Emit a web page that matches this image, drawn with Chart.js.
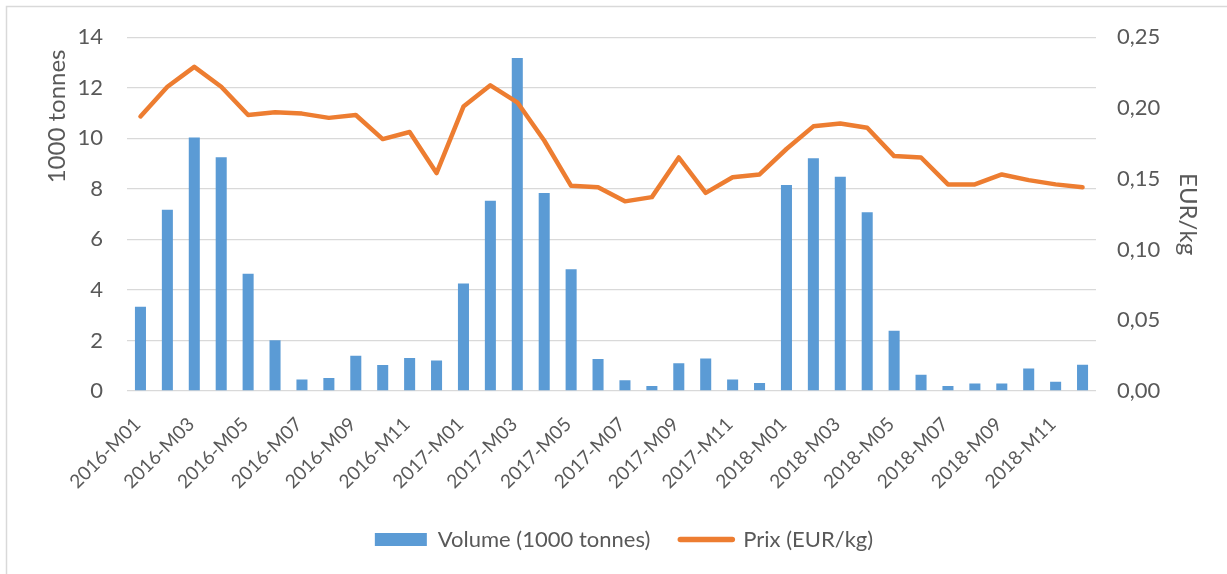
<!DOCTYPE html>
<html>
<head>
<meta charset="utf-8">
<script src="https://cdn.jsdelivr.net/npm/chart.js@4/dist/chart.umd.min.js"></script>
<style>
  html, body { margin: 0; padding: 0; background: #ffffff; }
  #wrap { width: 1227px; height: 574px; position: relative; }
</style>
</head>
<body>
<div id="wrap"><canvas id="c" width="1227" height="574"></canvas></div>
<script>
const categories = [
  '2016-M01','2016-M02','2016-M03','2016-M04','2016-M05','2016-M06','2016-M07','2016-M08','2016-M09','2016-M10','2016-M11','2016-M12',
  '2017-M01','2017-M02','2017-M03','2017-M04','2017-M05','2017-M06','2017-M07','2017-M08','2017-M09','2017-M10','2017-M11','2017-M12',
  '2018-M01','2018-M02','2018-M03','2018-M04','2018-M05','2018-M06','2018-M07','2018-M08','2018-M09','2018-M10','2018-M11','2018-M12'
];
const volume = [
  3.33, 7.17, 10.03, 9.25, 4.64, 2.01, 0.46, 0.51, 1.39, 1.03, 1.31, 1.21,
  4.25, 7.53, 13.18, 7.83, 4.82, 1.27, 0.43, 0.20, 1.10, 1.29, 0.46, 0.32,
  8.15, 9.21, 8.48, 7.07, 2.38, 0.64, 0.20, 0.30, 0.30, 0.89, 0.37, 1.04
];
const prix = [
  0.194, 0.215, 0.229, 0.215, 0.195, 0.197, 0.196, 0.193, 0.195, 0.178, 0.183, 0.154,
  0.201, 0.216, 0.204, 0.177, 0.145, 0.144, 0.134, 0.137, 0.165, 0.140, 0.151, 0.153,
  0.171, 0.187, 0.189, 0.186, 0.166, 0.165, 0.146, 0.146, 0.153, 0.149, 0.146, 0.144
];
const seriesNames = ['Volume (1000 tonnes)', 'Prix (EUR/kg)'];
const axisTitles = ['1000 tonnes', 'EUR/kg'];

const TXT = '#595959';
const FONT = 'Lato, "Open Sans", sans-serif';
const BLUE = '#5b9bd5';
const ORANGE = '#ed7d31';

const frame = {
  id: 'frame',
  beforeDraw(chart) {
    const ctx = chart.ctx;
    ctx.save();
    ctx.strokeStyle = '#d9d9d9';
    ctx.lineWidth = 1.5;
    ctx.beginPath();
    ctx.moveTo(6.5, 574);
    ctx.lineTo(6.5, 6.5);
    ctx.lineTo(1227, 6.5);
    ctx.stroke();
    ctx.restore();
  }
};

new Chart(document.getElementById('c'), {
  data: {
    labels: categories,
    datasets: [
      {
        type: 'line',
        label: seriesNames[1],
        data: prix,
        yAxisID: 'y1',
        borderColor: ORANGE,
        backgroundColor: ORANGE,
        borderWidth: 4.5,
        pointRadius: 0,
        tension: 0,
        borderJoinStyle: 'round',
        borderCapStyle: 'round',
        order: 0
      },
      {
        type: 'bar',
        label: seriesNames[0],
        data: volume,
        yAxisID: 'y',
        backgroundColor: BLUE,
        borderWidth: 0,
        categoryPercentage: 1,
        barPercentage: 0.41,
        order: 1
      }
    ]
  },
  options: {
    responsive: false,
    animation: false,
    layout: { padding: { top: 36, left: 21, right: 0, bottom: 13.5 } },
    plugins: {
      tooltip: { enabled: false },
      legend: {
        position: 'bottom',
        reverse: true,
        labels: {
          color: TXT,
          font: { family: FONT, size: 22 },
          padding: 30,
          usePointStyle: true,
          pointStyleWidth: 52,
          boxHeight: 13,
          generateLabels(chart) {
            return chart.data.datasets.map((ds, i) => ({
              text: ds.label,
              datasetIndex: i,
              fillStyle: ds.type === 'bar' ? BLUE : ORANGE,
              strokeStyle: ds.type === 'bar' ? BLUE : ORANGE,
              lineWidth: ds.type === 'bar' ? 0 : 5.5,
              lineCap: 'round',
              pointStyle: ds.type === 'bar' ? 'rect' : 'line',
              fontColor: TXT,
              hidden: false
            }));
          }
        }
      }
    },
    scales: {
      x: {
        grid: { display: false, drawTicks: false },
        border: { display: false },
        ticks: {
          autoSkip: false,
          maxRotation: 45,
          minRotation: 45,
          padding: 22,
          labelOffset: -3,
          color: TXT,
          font: { family: FONT, size: 19 },
          callback(v, i) { return i % 2 === 0 ? categories[i] : ''; }
        },
        afterFit(s) { s.height = 107.5; }
      },
      y: {
        position: 'left',
        min: 0, max: 14,
        ticks: { stepSize: 2, padding: 24, color: TXT, font: { family: FONT, size: 22 } },
        grid: { color: '#d9d9d9', lineWidth: 1.3, drawTicks: false },
        border: { display: false },
        title: {
          display: true,
          text: axisTitles[0] + '  ',
          align: 'end',
          color: TXT,
          font: { family: FONT, size: 24 },
          padding: { top: 21.6, bottom: 0 }
        },
        afterFit(s) { s.width = 106; }
      },
      y1: {
        position: 'right',
        min: 0, max: 0.25,
        ticks: {
          stepSize: 0.05, padding: 21, color: TXT, font: { family: FONT, size: 22 },
          callback(v) { return v.toFixed(2).replace('.', ','); }
        },
        grid: { display: false, drawTicks: false },
        border: { display: false },
        title: {
          display: true,
          text: axisTitles[1],
          color: TXT,
          font: { family: FONT, size: 24 },
          padding: { top: 24.6, bottom: 0 }
        },
        afterFit(s) { s.width = 131; }
      }
    }
  },
  plugins: [frame]
});
</script>
</body>
</html>
